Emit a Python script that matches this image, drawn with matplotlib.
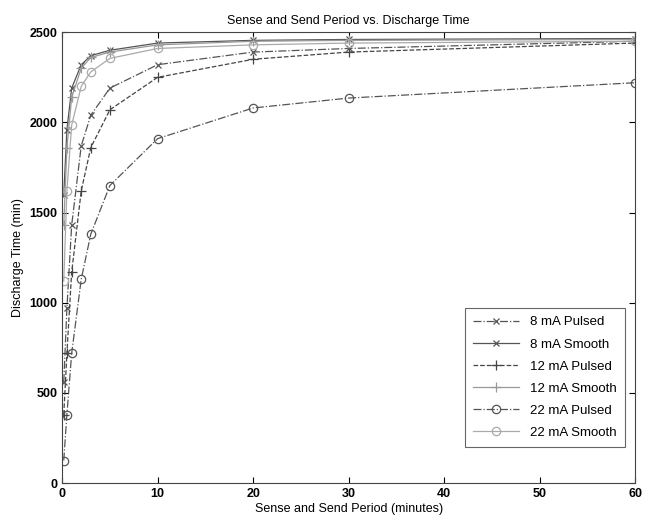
import matplotlib
matplotlib.use('Agg')
import matplotlib.pyplot as plt

plt.rcParams.update({'font.family': 'Liberation Sans', 'font.size': 9})

# sense and send period (minutes)
period = [0.17, 0.5, 1, 2, 3, 5, 10, 20, 30, 60]

# discharge time (min)
pulsed_8 = [560, 970, 1430, 1870, 2040, 2190, 2320, 2390, 2410, 2450]
smooth_8 = [1600, 1960, 2190, 2320, 2370, 2400, 2440, 2455, 2460, 2465]
pulsed_12 = [380, 720, 1170, 1620, 1860, 2070, 2250, 2350, 2390, 2440]
smooth_12 = [1430, 1860, 2140, 2300, 2360, 2390, 2430, 2450, 2455, 2460]
pulsed_22 = [125, 380, 720, 1130, 1380, 1650, 1910, 2080, 2135, 2220]
smooth_22 = [1120, 1620, 1985, 2200, 2280, 2355, 2410, 2430, 2440, 2450]

fig = plt.figure(figsize=(6.54, 5.2), dpi=100)
ax = fig.add_axes([0.095, 0.071, 0.876, 0.867])

ax.plot(period, pulsed_8, '-.', marker='x', color='#555555', lw=0.9, ms=5, mew=0.9, label='8 mA Pulsed')
ax.plot(period, smooth_8, '-', marker='x', color='#555555', lw=0.9, ms=5, mew=0.9, label='8 mA Smooth')
ax.plot(period, pulsed_12, '--', marker='+', color='#444444', lw=0.9, ms=7, mew=0.9, label='12 mA Pulsed')
ax.plot(period, smooth_12, '-', marker='+', color='#999999', lw=0.9, ms=7, mew=0.9, label='12 mA Smooth')
ax.plot(period, pulsed_22, '-.', marker='o', color='#555555', lw=0.9, ms=6, mew=0.9, mfc='none', label='22 mA Pulsed')
ax.plot(period, smooth_22, '-', marker='o', color='#aaaaaa', lw=0.9, ms=6, mew=0.9, mfc='none', label='22 mA Smooth')

ax.set_xlim(0, 60)
ax.set_ylim(0, 2500)
ax.set_xticks(range(0, 61, 10))
ax.set_yticks(range(0, 2501, 500))
ax.tick_params(direction='in', top=True, right=True, length=4, labelsize=9)
for lbl in ax.get_xticklabels() + ax.get_yticklabels():
    lbl.set_fontweight('bold')
for sp in ax.spines.values():
    sp.set_color('#444444')

ax.set_title('Sense and Send Period vs. Discharge Time', fontsize=9, pad=6)
ax.set_xlabel('Sense and Send Period (minutes)', fontsize=9, labelpad=2)
ax.set_ylabel('Discharge Time (min)', fontsize=9, labelpad=4)

leg = ax.legend(loc='lower right', bbox_to_anchor=(0.982, 0.08), fontsize=9.5,
                fancybox=False, edgecolor='#666666', framealpha=1, borderaxespad=0,
                handlelength=3.5, labelspacing=0.75, borderpad=0.6)
leg.get_frame().set_linewidth(0.8)

fig.savefig('out.png', dpi=100)
